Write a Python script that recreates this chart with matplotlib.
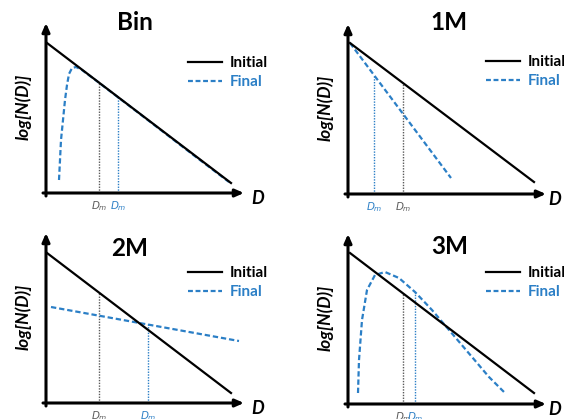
import numpy as np
import matplotlib.pyplot as plt
from matplotlib.lines import Line2D

plt.rcParams['font.family'] = ['Lato', 'DejaVu Sans']
plt.rcParams['mathtext.fontset'] = 'dejavusans'

BLUE = "#2b7fc6"
GRAY = "#5a5a5a"

# -------- schematic values (local units, origin at axis corner) --------
titles = ["Bin", "1M", "2M", "3M"]

init_d = [[1, 185], [2, 186], [1, 185], [2, 186]]
init_n = [[150, 10], [151, 12], [150, 10], [151, 11]]

bin_d = [13, 14, 15, 17, 19, 21, 23, 26, 30, 36, 44, 52, 90, 150, 183]
bin_n = [13, 33, 53, 73, 93, 108, 119, 125, 126, 123, 117, 111, 82, 36, 11]
m1_d = [2, 103]
m1_n = [151, 16]
m2_d = [5, 193]
m2_n = [96, 62]
m3_d = [10, 11, 14, 19, 27, 37, 51, 67, 84, 107, 124, 141, 157]
m3_n = [11, 44, 84, 114, 129, 132, 126, 112, 94, 67, 47, 27, 11]
final_d = [bin_d, m1_d, m2_d, m3_d]
final_n = [bin_n, m1_n, m2_n, m3_n]

# mean diameters: (initial, final) position and height
dm_init = [(53, 110), (55, 111), (53, 110), (55, 111)]
dm_final = [(72, 96), (26, 119), (102, 79), (67, 112)]

# -------- layout (figure pixels) --------
W, H = 564, 419
panels = [  # left, top, width, height, origin x, origin y (in panel)
    (0, 0, 282, 210, 46, 193),
    (282, 0, 282, 210, 66, 194),
    (0, 210, 282, 209, 46, 193),
    (282, 210, 282, 209, 66, 194),
]
title_pos = [(89, 170), (101, 171), (84, 155), (102, 158)]
legend_top = [137, 139, 137, 138]

fig = plt.figure(figsize=(W / 100, H / 100), dpi=100)

for i, (left, top, pw, ph, ox, oy) in enumerate(panels):
    ax = fig.add_axes([left / W, 1 - (top + ph) / H, pw / W, ph / H])
    ax.set_xlim(-ox, pw - ox)
    ax.set_ylim(-(ph - oy), oy)
    ax.axis("off")

    # axes with arrows
    ax.annotate("", xy=(0, 170), xytext=(0, -3),
                arrowprops=dict(arrowstyle="-|>,head_length=0.5,head_width=0.22",
                                color="black", lw=2.2, shrinkA=0, shrinkB=0))
    ax.annotate("", xy=(198, 0), xytext=(-3, 0),
                arrowprops=dict(arrowstyle="-|>,head_length=0.5,head_width=0.22",
                                color="black", lw=2.2, shrinkA=0, shrinkB=0))

    ax.plot(final_d[i], final_n[i], color=BLUE, lw=1.6, dashes=(2.4, 1.3), zorder=2)
    ax.plot(init_d[i], init_n[i], color="black", lw=1.6, zorder=3)

    xi, yi = dm_init[i]
    xf, yf = dm_final[i]
    ax.plot([xi, xi], [0, yi], color=GRAY, lw=1.0, ls=(0, (1, 1)), zorder=1)
    ax.plot([xf, xf], [0, yf], color=BLUE, lw=1.0, ls=(0, (1, 1)), zorder=1)
    ax.text(xi, -6, r"$D_m$", color=GRAY, fontsize=7.5, ha="center", va="top")
    ax.text(xf, -6, r"$D_m$", color=BLUE, fontsize=7.5, ha="center", va="top")

    ax.text(212 if ox == 46 else 207, -5, "D", fontsize=13, fontweight="bold",
            fontstyle="italic", ha="center", va="center")
    ax.text(-23, 86, "log[N(D)]", fontsize=12.5, fontweight="bold",
            fontstyle="italic", rotation=90, ha="center", va="center")
    tx, ty = title_pos[i]
    ax.text(tx, ty, titles[i], fontsize=17.5, fontweight="bold", ha="center", va="center")

    handles = [Line2D([], [], color="black", lw=1.6),
               Line2D([], [], color=BLUE, lw=1.6, dashes=(2.2, 1.2))]
    lx = 142 if ox == 46 else 138
    ax.legend(handles, ["Initial", "Final"], loc="upper left",
              bbox_to_anchor=(lx, legend_top[i]), bbox_transform=ax.transData,
              frameon=False, borderpad=0, borderaxespad=0,
              handlelength=2.2, handletextpad=0.55, labelspacing=0.32,
              prop=dict(size=11, weight="bold"), labelcolor=["black", BLUE])

fig.savefig("out.png", dpi=100)
